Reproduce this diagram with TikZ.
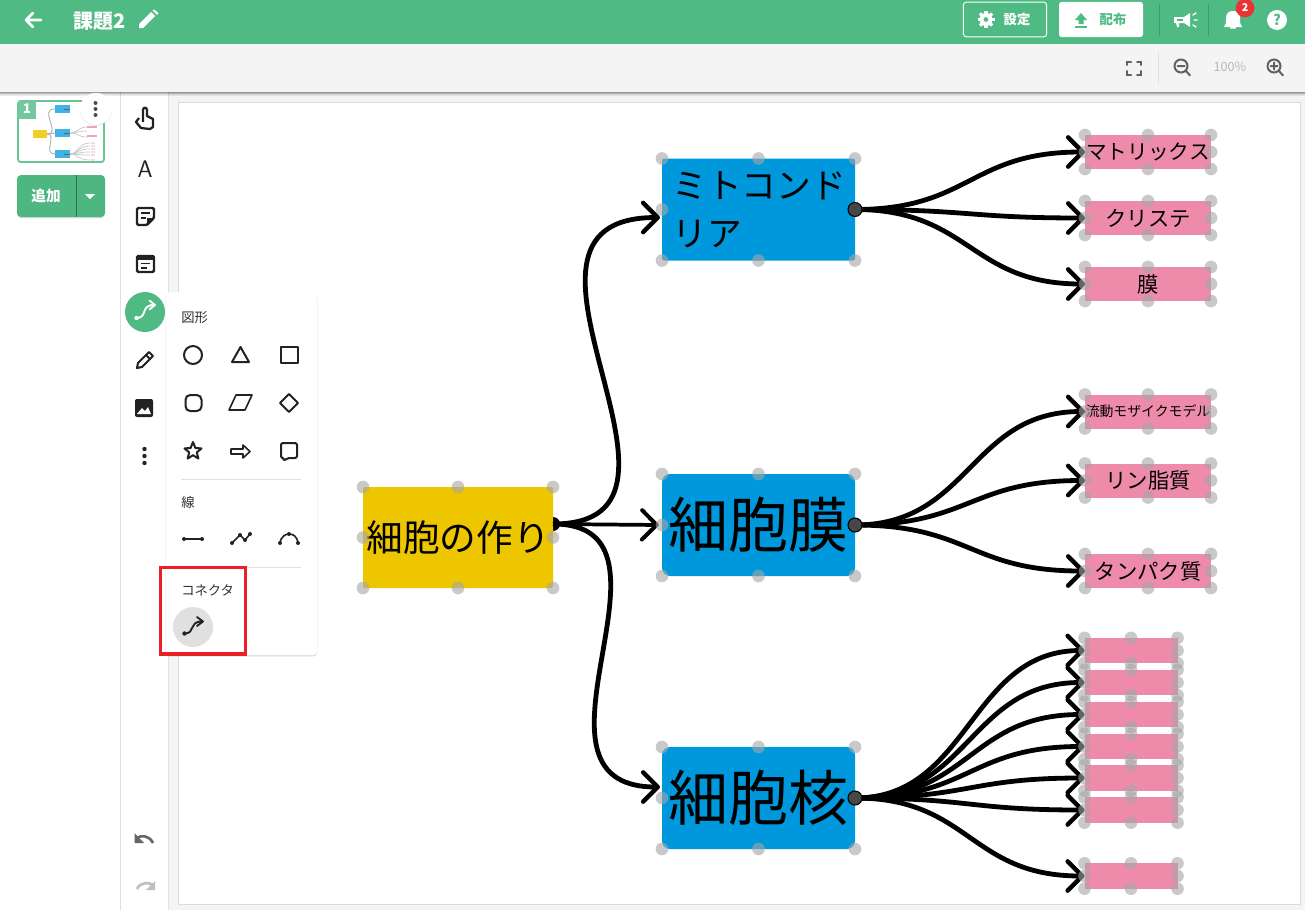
\documentclass[tikz,border=0pt]{standalone}
\usepackage{fontspec}
\setmainfont{Noto Sans CJK JP}
\usetikzlibrary{arrows.meta,shadows}
\definecolor{topgreen}{HTML}{50BA84}
\definecolor{bandgray}{HTML}{F4F4F4}
\definecolor{boxyellow}{HTML}{EDC600}
\definecolor{boxblue}{HTML}{0098DD}
\definecolor{boxpink}{HTML}{EE8BAB}
\definecolor{iconink}{HTML}{222222}
\definecolor{framered}{HTML}{EC2024}
\tikzset{
  x=0.75pt,y=-0.75pt,
  root/.style={fill=boxyellow,inner sep=0,outer sep=0,minimum width=142.5pt,minimum height=75.75pt,text=black,rounded corners=1pt},
  mid/.style={fill=boxblue,inner sep=0,outer sep=0,minimum width=144.75pt,minimum height=76.5pt,text=black,rounded corners=6pt},
  leaf/.style={fill=boxpink,inner sep=0,outer sep=0,minimum width=94.5pt,minimum height=25.5pt,text=black},
  sleaf/.style={fill=boxpink,inner sep=0,outer sep=0,minimum width=69.75pt,minimum height=19pt},
  handle/.style={circle,fill=gray!70,fill opacity=.6,minimum size=9.5pt,inner sep=0,draw=none},
  link/.style={line width=3.6pt,draw=black,-{Straight Barb[round,length=11pt,width=22pt,line width=3.3pt]}},
  thinlink/.style={line width=2.8pt,draw=black,-{Straight Barb[round,length=11pt,width=22pt,line width=3pt]}},
  srcdot/.style={circle,fill=black!72,draw=black,line width=.8pt,minimum size=10.5pt,inner sep=0},
  ico/.style={draw=iconink,line width=1.5pt,fill=none,line join=round},
  icof/.style={fill=iconink,draw=none},
  wico/.style={draw=white,line width=1.6pt,fill=none,line cap=round,line join=round},
  wicof/.style={fill=white,draw=none},
  gico/.style={draw=black!62,line width=1.5pt,fill=none,line cap=round},
  divider/.style={draw=black!12,line width=.75pt},
}
\newcommand{\hs}[1]{%
  \foreach \a in {north west,north,north east,west,east,south west,south,south east}{\node[handle] at (#1.\a) {};}}
\begin{document}
\begin{tikzpicture}
\useasboundingbox (0,0) rectangle (1305,910);
\fill[white] (0,0) rectangle (1305,910);
% chrome
\fill[bandgray] (120,92) rectangle (1305,910);
\fill[white] (1,92) rectangle (120,910);
\fill[white] (121,92) rectangle (168,910);
\draw[divider] (120.5,92) -- (120.5,910);
\draw[divider] (168.5,92) -- (168.5,910);
\fill[black!14] (178,102) rectangle (1301,905);
\fill[white] (179,103) rectangle (1300,904);
% band + shadow
\fill[bandgray] (0,44) rectangle (1305,92);
\foreach \i/\o in {0/.4,1/.25,2/.14,3/.07}{\fill[black,opacity=\o] (0,92+\i) rectangle (1305,93+\i);}
\fill[topgreen] (0,0) rectangle (1305,44);
% header left
\draw[wico,line width=2pt] (41,20) -- (26,20) (33,13) -- (26,20) -- (33,27);
\node[text=white,font=\fontsize{15pt}{16pt}\selectfont\bfseries,anchor=west,inner sep=0] (title) at (73,21) {課題2};
\fill[white] (139,24) -- (151,12) -- (155,16) -- (143,28) -- (139,28) -- cycle;
\fill[white] (152.5,10.5) -- (154,9.5) -- (158.5,13) -- (157,15) -- cycle;
% header right
\node[draw=white,line width=.7pt,rounded corners=2.2pt,minimum width=62.5pt,minimum height=26pt,inner sep=0] (settings) at (1005,19.5) {};
\fill[white,even odd rule] (986,19.5) circle (6.5) (986,19.5) circle (2.5);
\foreach \r in {0,45,...,315}{\fill[white,rotate around={\r:(986,19.5)}] (984.4,11) rectangle (987.6,14);}
\node[text=white,font=\fontsize{10pt}{11pt}\selectfont\bfseries] (setlabel) at (1017,19.5) {設定};
\node[fill=white,rounded corners=2.2pt,minimum width=63pt,minimum height=26.5pt,inner sep=0] (deliver) at (1101,19.5) {};
\fill[topgreen] (1081,13) -- (1087,20) -- (1083.5,20) -- (1083.5,24) -- (1078.5,24) -- (1078.5,20) -- (1075,20) -- cycle;
\fill[topgreen] (1075,25.5) rectangle (1087,27.5);
\node[text=topgreen,font=\fontsize{10pt}{11pt}\selectfont\bfseries] (dellabel) at (1113,19.5) {配布};
\draw[draw=black!18!topgreen,line width=.75pt] (1159.5,4) -- (1159.5,36);
\draw[draw=black!18!topgreen,line width=.75pt] (1208.5,4) -- (1208.5,36);
% megaphone
\fill[white] (1174,17) -- (1184,17) -- (1190,13) -- (1190,27) -- (1184,23) -- (1179,23) -- (1179,27) -- (1177,27) -- (1176,23) -- (1174,23) -- cycle;
\fill[topgreen] (1177,19) rectangle (1183,21);
\draw[wico,line width=1.1pt] (1193,15) -- (1196,13) (1194,20) -- (1197,20) (1193,25) -- (1196,27);
% bell
\fill[white] (1224,27) .. controls (1226,25) and (1226,22) .. (1226,18) .. controls (1226,13) and (1229,11) .. (1233,11) .. controls (1237,11) and (1240,13) .. (1240,18) .. controls (1240,22) and (1240,25) .. (1242,27) -- cycle;
\fill[white] (1230,28.5) arc[start angle=180,end angle=360,radius=3] -- cycle;
\node[circle,fill=black!10!red!80!white,minimum size=14pt,inner sep=0,text=white,font=\fontsize{8pt}{9pt}\selectfont\bfseries] (badge) at (1245,8) {2};
% help
\node[circle,fill=white,minimum size=15pt,inner sep=0,text=topgreen,font=\fontsize{11pt}{12pt}\selectfont\bfseries] (help) at (1277,20) {?};
% band icons
\draw[gico] (1127,65) -- (1127,61.5) -- (1131,61.5) (1137,61.5) -- (1141,61.5) -- (1141,65) (1141,71) -- (1141,74.5) -- (1137,74.5) (1131,74.5) -- (1127,74.5) -- (1127,71);
\draw[divider] (1158.5,52) -- (1158.5,84);
\draw[gico] (1181,66) circle (6.5) (1186,71) -- (1190,75.5) (1177.5,66) -- (1184.5,66);
\node[text=black!28,font=\fontsize{9.5pt}{10pt}\selectfont] (pct) at (1230,67) {100\%};
\draw[gico] (1274,66) circle (6.5) (1279,71) -- (1283,75.5) (1270.5,66) -- (1277.5,66) (1274,62.5) -- (1274,69.5);
% thumbnail
\draw[draw=topgreen!85!white,line width=1.4pt,rounded corners=2pt,fill=white] (18,101) rectangle (104,162);
\fill[topgreen!80!white] (18,101) rectangle (36,119);
\node[text=white,font=\fontsize{10pt}{11pt}\selectfont\bfseries] (pagenum) at (27,109) {1};
\fill[boxyellow!85!white] (33,130) rectangle (47,138);
\foreach \yy in {109,133,154}{\fill[boxblue!75!white] (55,\yy-4) rectangle (70,\yy+4);\draw[black!60,line width=.6pt] (64,\yy) -- (70,\yy);}
\draw[black!30,line width=.7pt] (47,134) .. controls (62,134) and (38,109) .. (55,109);
\draw[black!30,line width=.7pt] (47,134) -- (55,133);
\draw[black!30,line width=.7pt] (47,134) .. controls (58,134) and (42,154) .. (55,154);
\foreach \yy in {127,131,137}{\draw[black!22,line width=.5pt] (70,133) .. controls (78,133) and (78,\yy) .. (87,\yy);}
\foreach \yy in {143,146,149,152,155,160}{\draw[black!22,line width=.5pt] (70,154) .. controls (78,154) and (78,\yy) .. (90,\yy);}
\foreach \yy in {127,136}{\fill[boxpink!80!white] (87,\yy-1) rectangle (97,\yy+1);}
\foreach \yy in {143,146,149,152,155,160}{\fill[boxpink!35!white] (91,\yy-1) rectangle (95,\yy+1);}
\node[circle,fill=white,minimum size=24pt,inner sep=0,drop shadow={opacity=.25,shadow xshift=0pt,shadow yshift=-.6pt}] (menu) at (96,109) {};
\foreach \yy in {103,109,115}{\fill[black!70] (95.5,\yy) circle (2);}
% add button
\fill[topgreen!98!black,rounded corners=3pt,drop shadow={opacity=.25,shadow xshift=0pt,shadow yshift=-1pt}] (17,175) rectangle (105,217);
\draw[draw=black!40!topgreen,line width=.8pt] (76.5,175) -- (76.5,217);
\node[text=white,font=\fontsize{11pt}{12pt}\selectfont\bfseries] (addlabel) at (46,196) {追加};
\fill[white] (85,194) -- (95,194) -- (90,199) -- cycle;
% toolbar icons
\draw[ico,line width=1.7pt] (139,118) -- (136,122) -- (141,128) -- (150,129) -- (153,127) -- (153,119) -- (147,116) -- (147,110) .. controls (147,107) and (143,107) .. (143,110) -- (143,122);
\node[text=iconink,font=\fontsize{18pt}{19pt}\selectfont\sffamily] (letterA) at (145,169) {A};
\draw[ico,line width=1.8pt,rounded corners=1pt] (137,208) -- (154,208) -- (154,218) -- (147,225) -- (137,225) -- cycle;
\fill[iconink] (154,218) -- (147,225) -- (147,218) -- cycle;
\draw[ico,line width=1.3pt] (141,213) -- (150,213) (141,218) -- (146,218);
\draw[ico,line width=1.8pt,rounded corners=1pt] (137,256) rectangle (154,272);
\fill[iconink] (137,255) rectangle (154,259.5);
\draw[ico,line width=1.3pt] (141,263.5) -- (150,263.5) (141,268) -- (147,268);
\node[circle,fill=topgreen,minimum size=30pt,inner sep=0] (connbtn) at (145,312) {};
\fill[white] (136.5,318) circle (2.2);
\draw[wico,line width=1.4pt] (136.5,318) .. controls (148,318) and (140,305) .. (154,305) (149.5,300.5) -- (155,305) -- (149.5,309.5);
\draw[ico] (137,368) -- (138,363) -- (149,352) -- (153,356) -- (142,367) -- cycle (146,355) -- (150,359);
\fill[iconink] (136,369) -- (137,366) -- (139,368) -- cycle;
\fill[iconink,rounded corners=1.5pt] (135,399) rectangle (153,417);
\fill[white] (137,414) -- (142,408) -- (145,411) -- (148,407) -- (151,414) -- cycle;
\foreach \yy in {449,456,463}{\fill[iconink] (144.5,\yy) circle (2.2);}
\draw[draw=black!60,line width=2pt] (153,843) .. controls (149,835) and (141,835) .. (137,838);
\fill[black!60] (134.5,833) -- (134.5,843) -- (144,843) -- cycle;
\draw[draw=black!25,line width=2pt] (137,889) .. controls (140,882) and (149,882) .. (153,885);
\fill[black!25] (155,881) -- (155,890) -- (146,890) -- cycle;
% popup
\node[fill=white,rounded corners=3pt,minimum width=114pt,minimum height=272.25pt,inner sep=0,anchor=north west,drop shadow={opacity=.35,shadow xshift=0pt,shadow yshift=-.8pt}] (popup) at (165,292) {};
\node[anchor=west,inner sep=0,text=black!80,font=\fontsize{10pt}{11pt}\selectfont] (zukei) at (181,318) {図形};
\draw[ico] (193,355) circle (9);
\draw[ico] (240.5,347) -- (249,362) -- (232,362) -- cycle;
\draw[ico] (281,347) rectangle (297.5,363);
\draw[ico,rounded corners=3.5pt] (185.5,395) rectangle (201.5,411);
\draw[ico,line width=1.2pt] (236,395) -- (252,395) -- (245,410) -- (229,410) -- cycle;
\draw[ico] (289,394) -- (298,403) -- (289,412) -- (280,403) -- cycle;
\draw[ico] (193,442) -- (195.4,448) -- (201.5,448.4) -- (196.8,452.4) -- (198.4,458.6) -- (193,455.2) -- (187.6,458.6) -- (189.2,452.4) -- (184.5,448.4) -- (190.6,448) -- cycle;
\draw[ico,line width=1.2pt] (231,449) -- (243,449) -- (243,445) -- (250,451.5) -- (243,458) -- (243,454) -- (231,454) -- cycle;
\draw[ico,rounded corners=1.5pt] (281,443) -- (297,443) -- (297,458) -- (287,458) -- (284,461) -- (284,458) -- (281,458) -- cycle;
\draw[divider] (181,479.5) -- (301,479.5);
\node[anchor=west,inner sep=0,text=black!80,font=\fontsize{10pt}{11pt}\selectfont] (sen) at (181,502) {線};
\draw[iconink,line width=1.2pt] (184,539) -- (202,539);
\fill[iconink] (184,539) circle (2) (202,539) circle (2);
\draw[iconink,line width=1.2pt] (232,543) -- (240,535) -- (245,540) -- (250,534);
\fill[iconink] (232,543) circle (2) (240,535) circle (2) (245,540) circle (2) (250,534) circle (2);
\draw[iconink,line width=1.2pt] (280,543) .. controls (281,536) and (286,534) .. (289,534) .. controls (293,534) and (297,536) .. (298,543);
\fill[iconink] (280,543) circle (2) (289,534) circle (2) (298,543) circle (2);
\draw[divider] (181,567.5) -- (301,567.5);
\node[anchor=west,inner sep=0,text=black!80,font=\fontsize{10pt}{11pt}\selectfont] (konekuta) at (181,590) {コネクタ};
\node[circle,fill=black!12,minimum size=30pt,inner sep=0] (connsel) at (193,627) {};
\fill[iconink] (184.5,633.5) circle (2.2);
\draw[iconink,line width=1.4pt,line cap=round,line join=round] (184.5,633.5) .. controls (196,633.5) and (188,621.5) .. (202,621.5) (197,617) -- (203,621.5) -- (197,626);
\draw[draw=framered,line width=2.6pt] (160.5,567.5) rectangle (245.5,654);
% diagram nodes
\coordinate (cellout) at (553,524);
\fill[black] (cellout) circle (7);
\node[root,font=\fontsize{27.5pt}{30pt}\selectfont] (cell) at (458,537.5) {細胞の作り};
\node[mid,rounded corners=1.5pt,text width=129pt,align=left,font=\fontsize{26pt}{36pt}\selectfont] (mito) at (758.5,209.5) {\raisebox{-2pt}{ミトコンド}\\\raisebox{-2pt}{リア}};
\node[mid,font=\fontsize{45pt}{48pt}\selectfont] (memb) at (758.5,525) {細胞膜};
\node[mid,font=\fontsize{45pt}{48pt}\selectfont] (nuc) at (758.5,798) {細胞核};
\node[leaf,font=\fontsize{15.5pt}{18pt}\selectfont] (l1) at (1148,152) {マトリックス};
\node[leaf,font=\fontsize{16pt}{18pt}\selectfont] (l2) at (1148,218) {クリステ};
\node[leaf,font=\fontsize{16pt}{18pt}\selectfont] (l3) at (1148,284) {膜};
\node[leaf,font=\fontsize{10.4pt}{12pt}\selectfont] (l4) at (1148,411.5) {流動モザイクモデル};
\node[leaf,font=\fontsize{16pt}{18pt}\selectfont] (l5) at (1148,480.5) {リン脂質};
\node[leaf,font=\fontsize{16pt}{18pt}\selectfont] (l6) at (1148,571) {タンパク質};
\node[sleaf] (s1) at (1131,650.5) {};
\node[sleaf] (s2) at (1131,682.5) {};
\node[sleaf] (s3) at (1131,714.5) {};
\node[sleaf] (s4) at (1131,746.5) {};
\node[sleaf] (s5) at (1131,778) {};
\node[sleaf] (s6) at (1131,810) {};
\node[sleaf] (s7) at (1131,876) {};
% connectors
\draw[link] (cellout) .. controls +(178,0) and +(-190,0) .. ([xshift=-1.5pt,yshift=-6pt]mito.west);
\draw[thinlink] (cellout) -- ([xshift=-2.5pt]memb.west);
\draw[link] (cellout) .. controls +(145,0) and +(-155,0) .. ([xshift=-1.5pt,yshift=8.25pt]nuc.west);
\foreach \a in {l1,l2,l3}{\draw[link] (mito.east) .. controls +(115,0) and +(-115,0) .. (\a.west);}
\foreach \a in {l4,l5,l6}{\draw[link] (memb.east) .. controls +(115,0) and +(-115,0) .. (\a.west);}
\foreach \a in {s1,s2,s3,s4,s5,s6,s7}{\draw[link] (nuc.east) .. controls +(115,0) and +(-115,0) .. (\a.west);}
% handles
\foreach \n in {cell,mito,memb,nuc,l1,l2,l3,l4,l5,l6,s1,s2,s3,s4,s5,s6,s7}{\hs{\n}}
\node[srcdot] at (mito.east) {};
\node[srcdot] at (memb.east) {};
\node[srcdot] at (nuc.east) {};
\end{tikzpicture}
\end{document}
